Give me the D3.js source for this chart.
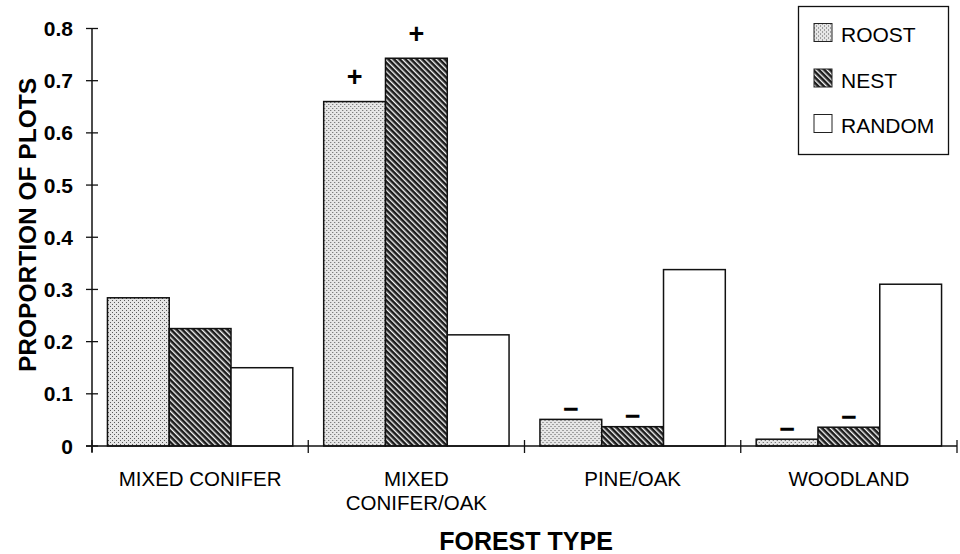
<!DOCTYPE html>
<html>
<head>
<meta charset="utf-8">
<script src="https://cdn.jsdelivr.net/npm/d3@7"></script>
<style>
  html, body { margin: 0; padding: 0; background: #fff; }
  svg { display: block; font-family: "Liberation Sans", Arial, sans-serif; }
</style>
</head>
<body>
<svg id="chart" width="960" height="554"></svg>
<script>
// Forest types (x categories) and their wrapped tick labels
const categories = ["MIXED CONIFER", "MIXED CONIFER/OAK", "PINE/OAK", "WOODLAND"];
const categoryLines = [["MIXED CONIFER"], ["MIXED", "CONIFER/OAK"], ["PINE/OAK"], ["WOODLAND"]];

// Plot types (series)
const seriesNames = ["ROOST", "NEST", "RANDOM"];

// Proportion of plots in each forest type
const roost  = [0.284, 0.660, 0.051, 0.013];
const nest   = [0.225, 0.743, 0.037, 0.036];
const random = [0.150, 0.213, 0.338, 0.310];

// Selection markers: + used more than available, − used less
const roostSig  = ["", "+", "\u2212", "\u2212"];
const nestSig   = ["", "+", "\u2212", "\u2212"];
const randomSig = ["", "", "", ""];

// Y axis ticks
const yTicks = [0, 0.1, 0.2, 0.3, 0.4, 0.5, 0.6, 0.7, 0.8];
const yTickLabels = ["0", "0.1", "0.2", "0.3", "0.4", "0.5", "0.6", "0.7", "0.8"];

const seriesValues = [roost, nest, random];
const seriesSig = [roostSig, nestSig, randomSig];

const svg = d3.select("#chart");
const defs = svg.append("defs");

// Stippled fill for roost plots
const stip = defs.append("pattern").attr("id", "stipple")
  .attr("patternUnits", "userSpaceOnUse").attr("width", 4).attr("height", 4);
stip.append("rect").attr("width", 4).attr("height", 4).attr("fill", "#e6e6e6");
stip.append("rect").attr("x", 0).attr("y", 0).attr("width", 1).attr("height", 1).attr("fill", "#5a5a5a");
stip.append("rect").attr("x", 2).attr("y", 2).attr("width", 1).attr("height", 1).attr("fill", "#5a5a5a");

// Dense diagonal hatch for nest plots
const hatch = defs.append("pattern").attr("id", "hatch")
  .attr("patternUnits", "userSpaceOnUse").attr("width", 4).attr("height", 4)
  .attr("patternTransform", "rotate(-45)");
hatch.append("rect").attr("width", 4).attr("height", 4).attr("fill", "#1c1c1c");
hatch.append("rect").attr("x", 0).attr("y", 0).attr("width", 1.4).attr("height", 4).attr("fill", "#f4f4f4");

const fills = ["url(#stipple)", "url(#hatch)", "#ffffff"];

// Scales
const x0 = d3.scaleBand().domain(categories).range([92, 957]).padding(0);
const x1 = d3.scaleBand().domain(seriesNames).range([0, x0.bandwidth()])
  .paddingInner(0).paddingOuter(0.25);
const y = d3.scaleLinear().domain([0, 0.8]).range([446, 28.5]);

// Bars
const groups = svg.append("g").selectAll("g")
  .data(categories).join("g")
  .attr("transform", d => `translate(${x0(d)},0)`);

groups.selectAll("rect")
  .data((d, i) => seriesNames.map((s, j) => ({ s, j, v: seriesValues[j][i] })))
  .join("rect")
  .attr("x", d => x1(d.s))
  .attr("y", d => y(d.v))
  .attr("width", x1.bandwidth())
  .attr("height", d => y(0) - y(d.v))
  .attr("fill", d => fills[d.j])
  .attr("stroke", "#111")
  .attr("stroke-width", 1.5);

// Significance markers above bars
groups.selectAll("text.sig")
  .data((d, i) => seriesNames.map((s, j) => ({ s, j, v: seriesValues[j][i], m: seriesSig[j][i] }))
    .filter(d => d.m))
  .join("text")
  .attr("class", "sig")
  .attr("x", d => x1(d.s) + x1.bandwidth() / 2)
  .attr("y", d => y(d.v) - (d.m === "+" ? 24 : 10))
  .attr("dy", "0.32em")
  .attr("text-anchor", "middle")
  .attr("font-weight", "bold")
  .attr("font-size", 27)
  .attr("fill", "#000")
  .text(d => d.m);

// Y axis
const yAxis = svg.append("g");
yAxis.append("line")
  .attr("x1", 92).attr("x2", 92).attr("y1", y(0.8)).attr("y2", y(0) + 6)
  .attr("stroke", "#111").attr("stroke-width", 1.5);
yAxis.selectAll("line.tick").data(yTicks).join("line")
  .attr("class", "tick")
  .attr("x1", 86).attr("x2", 98)
  .attr("y1", d => y(d)).attr("y2", d => y(d))
  .attr("stroke", "#111").attr("stroke-width", 1.3);
yAxis.selectAll("text").data(yTicks).join("text")
  .attr("x", 73).attr("y", d => y(d)).attr("dy", "0.36em")
  .attr("text-anchor", "end")
  .attr("font-weight", "bold").attr("font-size", 21)
  .text((d, i) => yTickLabels[i]);

// X axis with category boundary ticks
const xAxis = svg.append("g");
xAxis.append("line")
  .attr("x1", 86).attr("x2", 957).attr("y1", y(0)).attr("y2", y(0))
  .attr("stroke", "#111").attr("stroke-width", 1.5);
const bounds = categories.map(c => x0(c)).concat([x0.range()[1]]);
xAxis.selectAll("line.tick").data(bounds).join("line")
  .attr("class", "tick")
  .attr("x1", d => d).attr("x2", d => d)
  .attr("y1", y(0) - 6).attr("y2", y(0) + 7)
  .attr("stroke", "#111").attr("stroke-width", 1.3);

xAxis.selectAll("text").data(categories).join("text")
  .attr("x", d => x0(d) + x0.bandwidth() / 2)
  .attr("y", 486)
  .attr("text-anchor", "middle")
  .attr("font-size", 20.5)
  .each(function (d, i) {
    d3.select(this).selectAll("tspan").data(categoryLines[i]).join("tspan")
      .attr("x", x0(d) + x0.bandwidth() / 2)
      .attr("dy", (t, k) => k === 0 ? 0 : 24)
      .text(t => t);
  });

// Axis titles
svg.append("text")
  .attr("x", 526).attr("y", 550)
  .attr("text-anchor", "middle")
  .attr("font-weight", "bold").attr("font-size", 25)
  .text("FOREST TYPE");

svg.append("text")
  .attr("transform", "translate(36,225) rotate(-90)")
  .attr("text-anchor", "middle")
  .attr("font-weight", "bold").attr("font-size", 24.5)
  .text("PROPORTION OF PLOTS");

// Legend
const legend = svg.append("g");
legend.append("rect")
  .attr("x", 798.5).attr("y", 6.5).attr("width", 150).attr("height", 148)
  .attr("fill", "#fff").attr("stroke", "#111").attr("stroke-width", 1.3);
const items = legend.selectAll("g.item").data(seriesNames).join("g")
  .attr("class", "item")
  .attr("transform", (d, i) => `translate(814,${23.5 + i * 45.5})`);
items.append("rect")
  .attr("width", 18).attr("height", 18)
  .attr("fill", (d, i) => fills[i])
  .attr("stroke", "#222").attr("stroke-width", 1);
items.append("text")
  .attr("x", 27).attr("y", 18.5)
  .attr("font-size", 21)
  .text(d => d);
</script>
</body>
</html>
